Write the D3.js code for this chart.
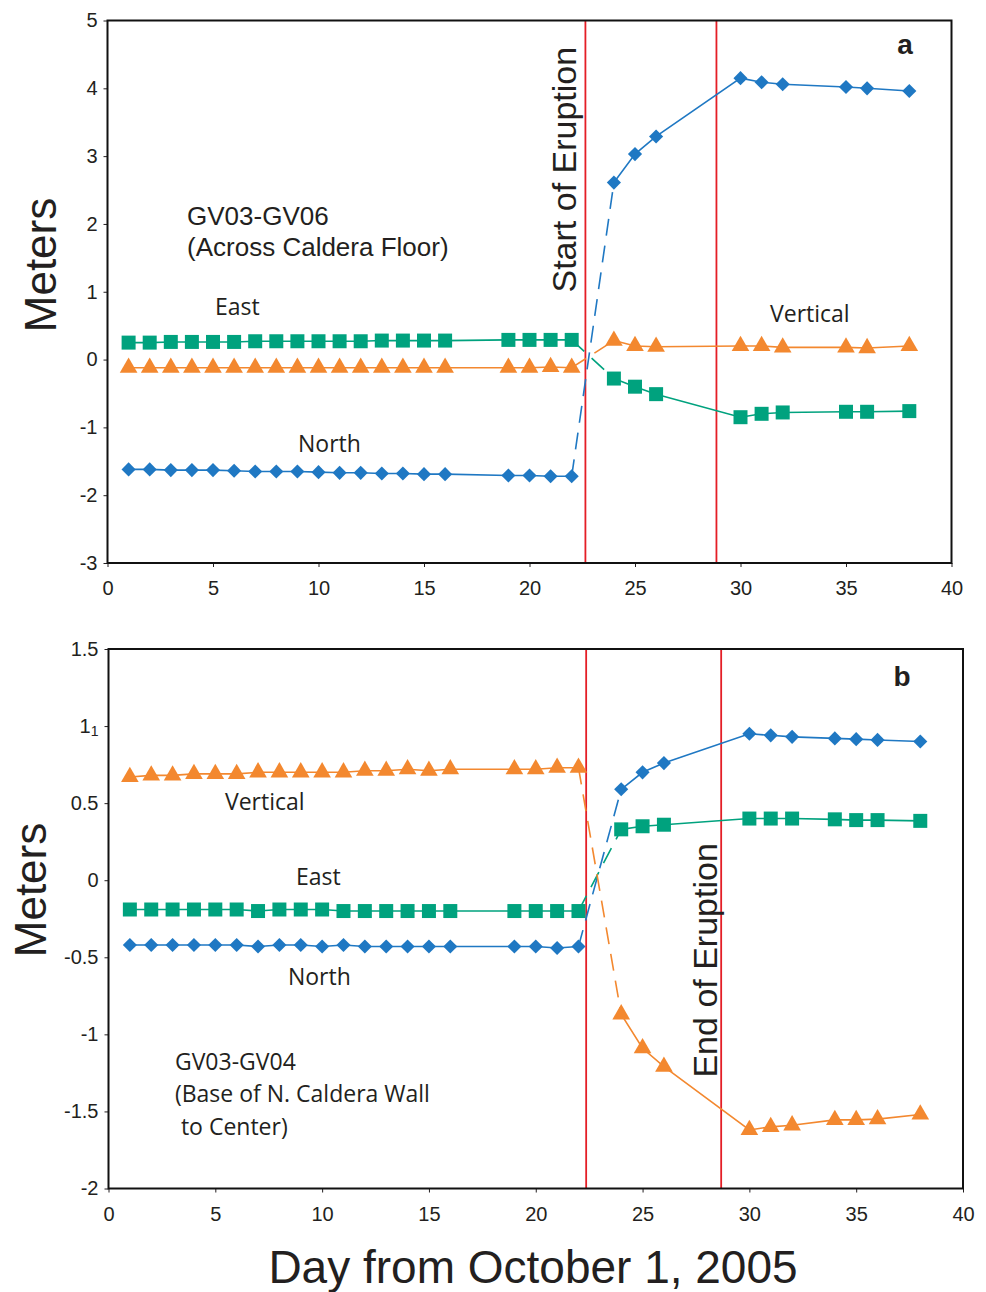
<!DOCTYPE html>
<html>
<head>
<meta charset="utf-8">
<script src="https://d3js.org/d3.v7.min.js"></script>
<style>
  body { margin: 0; background: #fff; }
  svg text { fill: #231f20; }
</style>
</head>
<body>
<svg id="chart" width="986" height="1292"></svg>
<script>
// ---- data ----
var daysA = [1, 2, 3, 4, 5, 6, 7, 8, 9, 10, 11, 12, 13, 14, 15, 16, 19, 20, 21, 22,
             24, 25, 26, 30, 31, 32, 35, 36, 38];
var northA = [-1.62, -1.62, -1.63, -1.63, -1.63, -1.64, -1.65, -1.65, -1.65, -1.66,
              -1.67, -1.67, -1.68, -1.68, -1.69, -1.69, -1.71, -1.71, -1.72, -1.72,
              2.61, 3.03, 3.29, 4.15, 4.09, 4.06, 4.02, 4.00, 3.96];
var eastA = [0.25, 0.25, 0.26, 0.26, 0.26, 0.26, 0.27, 0.27, 0.27, 0.27,
             0.27, 0.27, 0.28, 0.28, 0.28, 0.28, 0.29, 0.29, 0.29, 0.29,
             -0.28, -0.40, -0.51, -0.85, -0.80, -0.78, -0.77, -0.77, -0.76];
var vertA = [-0.12, -0.12, -0.12, -0.12, -0.12, -0.12, -0.12, -0.12, -0.12, -0.12,
             -0.12, -0.12, -0.12, -0.12, -0.12, -0.12, -0.12, -0.12, -0.11, -0.12,
             0.28, 0.20, 0.19, 0.20, 0.20, 0.18, 0.18, 0.17, 0.20];

var daysB = [1, 2, 3, 4, 5, 6, 7, 8, 9, 10, 11, 12, 13, 14, 15, 16, 19, 20, 21, 22,
             24, 25, 26, 30, 31, 32, 34, 35, 36, 38];
var northB = [-0.42, -0.42, -0.42, -0.42, -0.42, -0.42, -0.43, -0.42, -0.42, -0.43,
              -0.42, -0.43, -0.43, -0.43, -0.43, -0.43, -0.43, -0.43, -0.44, -0.43,
              0.59, 0.70, 0.76, 0.95, 0.94, 0.93, 0.92, 0.915, 0.91, 0.90];
var eastB = [-0.19, -0.19, -0.19, -0.19, -0.19, -0.19, -0.20, -0.19, -0.19, -0.19,
             -0.20, -0.20, -0.20, -0.20, -0.20, -0.20, -0.20, -0.20, -0.20, -0.20,
             0.33, 0.35, 0.36, 0.40, 0.40, 0.40, 0.395, 0.39, 0.39, 0.385];
var vertB = [0.67, 0.68, 0.68, 0.69, 0.69, 0.69, 0.70, 0.70, 0.70, 0.70,
             0.70, 0.71, 0.71, 0.72, 0.71, 0.72, 0.72, 0.72, 0.73, 0.73,
             -0.87, -1.09, -1.21, -1.62, -1.60, -1.59, -1.555, -1.555, -1.55, -1.52];

var xTicks = [0, 5, 10, 15, 20, 25, 30, 35, 40];
var yTicksA = [-3, -2, -1, 0, 1, 2, 3, 4, 5];
var yTicksB = [-2, -1.5, -1, -0.5, 0, 0.5, 1, 1.5];

var eruptionA = [22.65, 28.86];   // start / end of eruption lines
var eruptionB = [22.36, 28.68];
var gapDays = [22, 24];           // dashed link across the eruption

var blue = "#1f78c3", green = "#00a27e", orange = "#f3882f", red = "#e41e26";
var labelFont = "'Open Sans', 'Noto Sans', sans-serif";
var helv = "'Liberation Sans', Arial, sans-serif";

var svg = d3.select("#chart");

function drawPanel(cfg) {
    var x = d3.scaleLinear().domain([0, 40]).range(cfg.xRange);
    var y = d3.scaleLinear().domain(cfg.yDomain).range(cfg.yRange);
    var g = svg.append("g");

    // red eruption lines
    g.selectAll("line.erupt")
        .data(cfg.eruption)
      .enter().append("line")
        .attr("x1", d => x(d)).attr("x2", d => x(d))
        .attr("y1", cfg.yRange[0]).attr("y2", cfg.yRange[1])
        .style("stroke", red).style("stroke-width", 1.8);

    // axes (plain hyphen minus, like the original)
    var xAxis = g.append("g")
        .attr("transform", "translate(0," + cfg.yRange[0] + ")")
        .call(d3.axisBottom(x).tickValues(xTicks).tickSize(4).tickPadding(14)
              .tickFormat(d => String(d)));
    var yAxis = g.append("g")
        .attr("transform", "translate(" + cfg.xRange[0] + ",0)")
        .call(d3.axisLeft(y).tickValues(cfg.yTicks).tickSize(4).tickPadding(6)
              .tickFormat(d => String(d)));
    [xAxis, yAxis].forEach(a => {
        a.select(".domain").remove();
        a.selectAll("line").style("stroke", "#231f20").style("stroke-width", 1);
        a.selectAll("text").style("font-family", helv).style("font-size", "20px")
            .style("fill", "#231f20");
    });
    if (cfg.fixOne) {
        // the reference shows the "1" tick as "1" with a stray small "1"
        yAxis.selectAll(".tick text").filter(d => d === 1)
            .text("1").append("tspan").attr("dy", "0.25em")
            .style("font-size", "14px").text("1");
    }

    // frame
    g.append("rect")
        .attr("x", cfg.xRange[0]).attr("y", cfg.yRange[1])
        .attr("width", cfg.xRange[1] - cfg.xRange[0])
        .attr("height", cfg.yRange[0] - cfg.yRange[1])
        .style("fill", "none").style("stroke", "#111").style("stroke-width", 2);

    var series = [
        { vals: cfg.north, color: blue, shape: "diamond" },
        { vals: cfg.east, color: green, shape: "square" },
        { vals: cfg.vert, color: orange, shape: "triangle" }
    ];

    var line = d3.line().x(d => x(d[0])).y(d => y(d[1]));

    series.forEach(s => {
        var pts = cfg.days.map((d, i) => [d, s.vals[i]]);
        var pre = pts.filter(p => p[0] <= gapDays[0]);
        var post = pts.filter(p => p[0] >= gapDays[1]);
        var link = pts.filter(p => p[0] === gapDays[0] || p[0] === gapDays[1]);

        g.append("path").datum(pre).attr("d", line)
            .style("fill", "none").style("stroke", s.color).style("stroke-width", 1.6);
        g.append("path").datum(post).attr("d", line)
            .style("fill", "none").style("stroke", s.color).style("stroke-width", 1.6);
        g.append("path").datum(link).attr("d", line)
            .style("fill", "none").style("stroke", s.color).style("stroke-width", 1.6)
            .style("stroke-dasharray", "17,10");

        var sym;
        if (s.shape === "square") sym = d3.symbol().type(d3.symbolSquare).size(196);
        else if (s.shape === "diamond") sym = d3.symbol().type(d3.symbolSquare).size(100);
        else sym = d3.symbol().type(d3.symbolTriangle).size(135);

        g.selectAll(null)
            .data(pts)
          .enter().append("path")
            .attr("d", sym)
            .attr("transform", p => "translate(" + x(p[0]) + "," + y(p[1]) + ")" +
                  (s.shape === "diamond" ? " rotate(45)" : ""))
            .style("fill", s.color);
    });

    // annotations (positions in data units)
    cfg.labels.forEach(l => {
        g.append("text")
            .attr("x", x(l.d)).attr("y", y(l.v))
            .style("font-family", l.font || labelFont)
            .style("font-size", l.size + "px")
            .style("font-weight", l.bold ? "bold" : "normal")
            .attr("text-anchor", l.anchor || "start")
            .attr("xml:space", "preserve")
            .text(l.text);
    });

    // vertical eruption caption
    g.append("text")
        .attr("transform", "translate(" + x(cfg.caption.d) + "," + y(cfg.caption.v) + ") rotate(-90)")
        .attr("text-anchor", "middle")
        .style("font-family", helv).style("font-size", "34px")
        .text(cfg.caption.text);

    // y axis title
    svg.append("text")
        .attr("transform", "translate(" + cfg.meters[0] + "," + cfg.meters[1] + ") rotate(-90)")
        .attr("text-anchor", "middle")
        .style("font-family", helv).style("font-size", "44px")
        .text("Meters");
}

drawPanel({
    xRange: [107.5, 951.5], yRange: [563, 20.5], yDomain: [-3, 5],
    yTicks: yTicksA,
    days: daysA, north: northA, east: eastA, vert: vertA,
    eruption: eruptionA,
    labels: [
        { text: "GV03-GV06", d: 3.77, v: 1.99, size: 26, font: helv },
        { text: "(Across Caldera Floor)", d: 3.77, v: 1.52, size: 26, font: helv },
        { text: "East", d: 5.09, v: 0.65, size: 23 },
        { text: "North", d: 9.03, v: -1.36, size: 23 },
        { text: "Vertical", d: 31.4, v: 0.56, size: 23 },
        { text: "a", d: 37.8, v: 4.5, size: 28, bold: true, anchor: "middle", font: helv }
    ],
    caption: { text: "Start of Eruption", d: 22.2, v: 2.8 },
    meters: [56, 265]
});

drawPanel({
    xRange: [108.5, 963], yRange: [1188.5, 649], yDomain: [-2, 1.5],
    yTicks: yTicksB,
    fixOne: true,
    days: daysB, north: northB, east: eastB, vert: vertB,
    eruption: eruptionB,
    labels: [
        { text: "Vertical", d: 5.45, v: 0.456, size: 23 },
        { text: "East", d: 8.78, v: -0.03, size: 23 },
        { text: "North", d: 8.40, v: -0.68, size: 23 },
        { text: "GV03-GV04", d: 3.11, v: -1.23, size: 23 },
        { text: "(Base of N. Caldera Wall", d: 3.11, v: -1.44, size: 23 },
        { text: " to Center)", d: 3.11, v: -1.655, size: 23 },
        { text: "b", d: 37.15, v: 1.26, size: 28, bold: true, anchor: "middle", font: helv }
    ],
    caption: { text: "End of Eruption", d: 28.5, v: -0.52 },
    meters: [46, 890]
});

// shared x axis title
svg.append("text")
    .attr("x", 533).attr("y", 1283)
    .attr("text-anchor", "middle")
    .style("font-family", helv).style("font-size", "46px")
    .text("Day from October 1, 2005");
</script>
</body>
</html>
